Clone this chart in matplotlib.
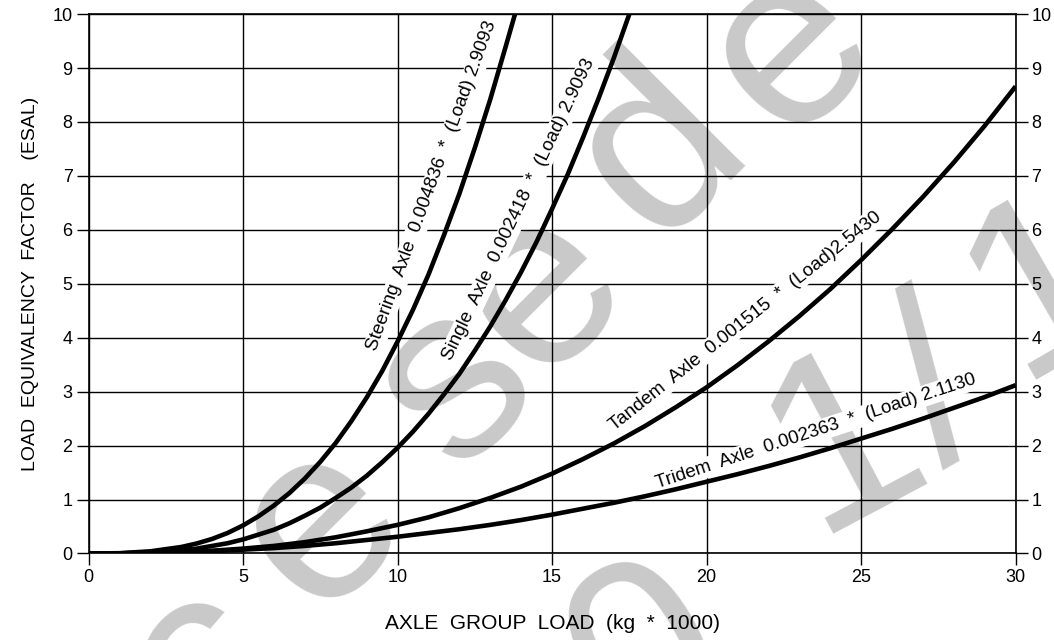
import matplotlib
matplotlib.use("Agg")
import matplotlib.pyplot as plt

# values (load in kg*1000, ESAL)
steer_load = [0, 1, 2, 3, 3.5, 4, 4.5, 5, 5.5, 6, 6.5, 7, 7.5, 8, 8.5, 9, 9.5, 10,
              10.5, 11, 11.5, 12, 12.5, 13, 13.5, 13.8]
steer_esal = [0, 0.005, 0.04, 0.12, 0.185, 0.27, 0.38, 0.52, 0.69, 0.89, 1.12, 1.39, 1.70,
              2.05, 2.45, 2.89, 3.38, 3.93, 4.52, 5.17, 5.90, 6.67, 7.52, 8.42, 9.40, 10.0]

single_load = [0, 1, 2, 3, 3.5, 4, 4.5, 5, 5.5, 6, 6.5, 7, 7.5, 8, 8.5, 9, 9.5, 10,
               10.5, 11, 11.5, 12, 12.5, 13, 13.5, 14, 14.5, 15, 15.5, 16, 16.5, 17, 17.5]
single_esal = [0, 0.002, 0.02, 0.06, 0.09, 0.14, 0.19, 0.26, 0.35, 0.44, 0.56, 0.70, 0.85,
               1.03, 1.22, 1.44, 1.69, 1.96, 2.26, 2.59, 2.95, 3.33, 3.76, 4.21, 4.70, 5.22,
               5.78, 6.39, 7.02, 7.71, 8.43, 9.19, 10.0]

tandem_load = list(range(0, 31))
tandem_esal = [0, 0.002, 0.009, 0.025, 0.05, 0.09, 0.14, 0.21, 0.30, 0.41, 0.53, 0.67, 0.84,
               1.03, 1.24, 1.48, 1.75, 2.04, 2.36, 2.71, 3.08, 3.49, 3.93, 4.40, 4.90, 5.44,
               6.01, 6.61, 7.25, 7.93, 8.66]

tridem_load = list(range(0, 31))
tridem_esal = [0, 0.002, 0.01, 0.024, 0.044, 0.071, 0.10, 0.14, 0.19, 0.25, 0.31, 0.38, 0.45,
               0.53, 0.62, 0.72, 0.83, 0.94, 1.06, 1.19, 1.33, 1.47, 1.62, 1.78, 1.95, 2.13,
               2.31, 2.50, 2.70, 2.90, 3.12]

labels = [
    "Steering  Axle  0.004836  *  (Load) 2.9093",
    "Single  Axle  0.002418  *  (Load) 2.9093",
    "Tandem  Axle  0.001515  *  (Load)2.5430",
    "Tridem  Axle  0.002363  *  (Load) 2.1130",
]
x_ticks = [0, 5, 10, 15, 20, 25, 30]
y_ticks = list(range(0, 11))

plt.rcParams["font.family"] = ["Liberation Sans", "DejaVu Sans"]

fig = plt.figure(figsize=(10.54, 6.4), dpi=100)
ax = fig.add_axes([0.084, 0.1352, 0.8796, 0.8428])
ax.patch.set_alpha(0)

# grey watermark behind everything (glyph, x px, y px, angle)
wm_gray = "#c9c9c9"
wm = [("c", 205, 665, 45), ("e", 320, 525, 45), ("s", 455, 385, 45), ("e", 541, 290, 45),
      ("d", 660, 150, 45), ("e", 790, 50, 45),
      ("0", 650, 660, 30), ("1", 845, 445, 28), ("/", 940, 395, 30), ("1", 1045, 290, 30)]
for ch, px, py, ang in wm:
    fig.text(px / 1054, 1 - py / 640, ch, fontsize=178, color=wm_gray,
             rotation=ang, rotation_mode="anchor", ha="center", va="center", zorder=-5)

for xs, ys in [(steer_load, steer_esal), (single_load, single_esal),
               (tandem_load, tandem_esal), (tridem_load, tridem_esal)]:
    ax.plot(xs, ys, color="black", lw=3.3, solid_capstyle="butt", zorder=4, clip_on=True)

lab_pos = [(11.12, 6.81, 70), (13.93, 6.37, 64.5), (21.25, 4.31, 38.4), (23.54, 2.26, 18.2)]
for txt, (lx, ly, rot) in zip(labels, lab_pos):
    ax.text(lx, ly, txt, fontsize=13.5, rotation=rot, rotation_mode="anchor",
            ha="center", va="center", zorder=3,
            bbox=dict(facecolor="white", edgecolor="none", pad=1.5))

ax.set_xlim(0, 30)
ax.set_ylim(0, 10)
ax.set_xticks(x_ticks)
ax.set_yticks(y_ticks)
ax.grid(True, color="black", lw=1.0)
ax.set_axisbelow(True)
for s in ax.spines.values():
    s.set_linewidth(1.2)
ax.tick_params(direction="out", length=8.5, width=1.0, labelsize=13, pad=3,
               right=True, labelright=True)
ax.set_xlabel("AXLE  GROUP  LOAD  (kg  *  1000)", fontsize=15, labelpad=20)
ax.set_ylabel("LOAD  EQUIVALENCY  FACTOR    (ESAL)", fontsize=14, labelpad=10)

fig.savefig("out.png", dpi=100)
